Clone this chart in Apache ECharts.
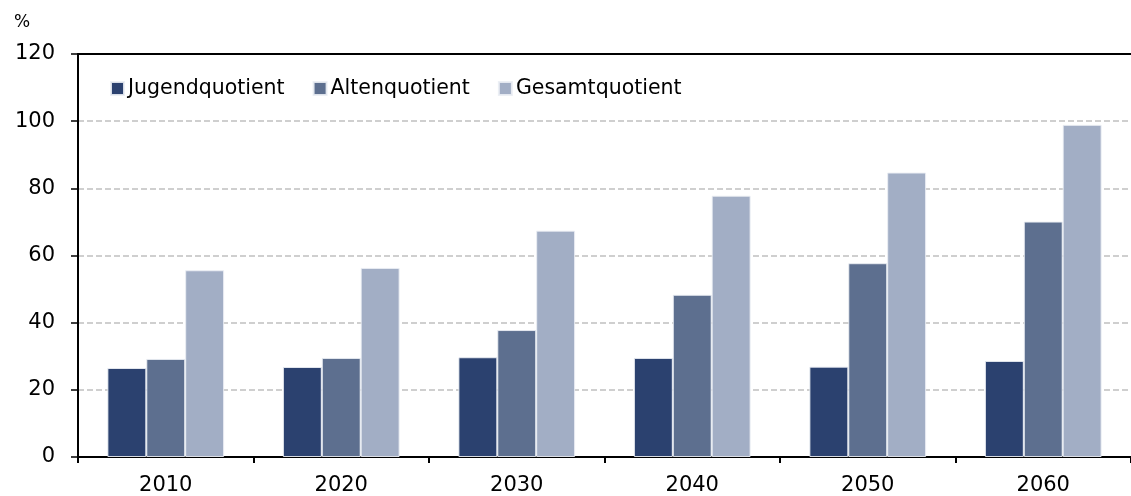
<!DOCTYPE html>
<html>
<head>
<meta charset="utf-8">
<script src="https://cdn.jsdelivr.net/npm/echarts@6/dist/echarts.min.js"></script>
<style>
html,body{margin:0;padding:0;background:#fff;}
#chart{width:1131px;height:496px;}
</style>
</head>
<body>
<div id="chart"></div>
<script>
const categories = ['2010', '2020', '2030', '2040', '2050', '2060'];
const jugendquotient = [26.5, 26.8, 29.7, 29.5, 26.9, 28.6];
const altenquotient = [29.2, 29.5, 37.8, 48.3, 57.7, 70.1];
const gesamtquotient = [55.6, 56.3, 67.4, 77.8, 84.7, 98.9];
const seriesNames = ['Jugendquotient', 'Altenquotient', 'Gesamtquotient'];
const unitLabel = '%';

const FONT = 'DejaVu Sans';
const colors = ['#2b416f', '#5d6f8f', '#a2aec5'];

const chart = echarts.init(document.getElementById('chart'));
const barStyle = (c) => ({ color: c, borderColor: 'rgba(235,238,244,0.9)', borderWidth: 1 });

chart.setOption({
  animation: false,
  textStyle: { fontFamily: FONT },
  graphic: [{
    type: 'text', left: 14, top: 14,
    style: { text: unitLabel, font: '17px "' + FONT + '"', fill: '#000' }
  }],
  legend: {
    left: 105, top: 73,
    itemWidth: 13, itemHeight: 13, itemGap: 28,
    icon: 'rect',
    textStyle: { fontSize: 20.5, color: '#000', fontFamily: FONT, padding: [0, 0, 0, -1] },
    data: seriesNames
  },
  grid: { left: 78, top: 54, width: 1058, height: 404, containLabel: false },
  xAxis: [{
    type: 'category', data: categories, position: 'bottom',
    axisLine: { show: true, lineStyle: { color: '#000', width: 2 } },
    axisTick: { show: true, length: 6, lineStyle: { color: '#000', width: 2 } },
    axisLabel: { fontSize: 21, color: '#000', margin: 18, fontFamily: FONT },
    splitLine: { show: false }
  }, {
    type: 'category', data: categories, position: 'top',
    axisLine: { show: true, lineStyle: { color: '#000', width: 2 } },
    axisTick: { show: false }, axisLabel: { show: false }, splitLine: { show: false }
  }],
  yAxis: {
    type: 'value', min: 0, max: 120, interval: 20,
    axisLine: { show: true, lineStyle: { color: '#000', width: 2 } },
    axisTick: { show: true, length: 7, lineStyle: { color: '#000', width: 1.5 } },
    axisLabel: { fontSize: 21, color: '#000', margin: 23, fontFamily: FONT },
    splitLine: { show: true, lineStyle: { color: '#c0c0c0', type: [6, 3], width: 1.5 } }
  },
  series: [
    { name: seriesNames[0], type: 'bar', data: jugendquotient, itemStyle: barStyle(colors[0]), barGap: '0%', barCategoryGap: '33.5%' },
    { name: seriesNames[1], type: 'bar', data: altenquotient, itemStyle: barStyle(colors[1]), barGap: '0%', barCategoryGap: '33.5%' },
    { name: seriesNames[2], type: 'bar', data: gesamtquotient, itemStyle: barStyle(colors[2]), barGap: '0%', barCategoryGap: '33.5%' }
  ]
});
</script>
</body>
</html>
